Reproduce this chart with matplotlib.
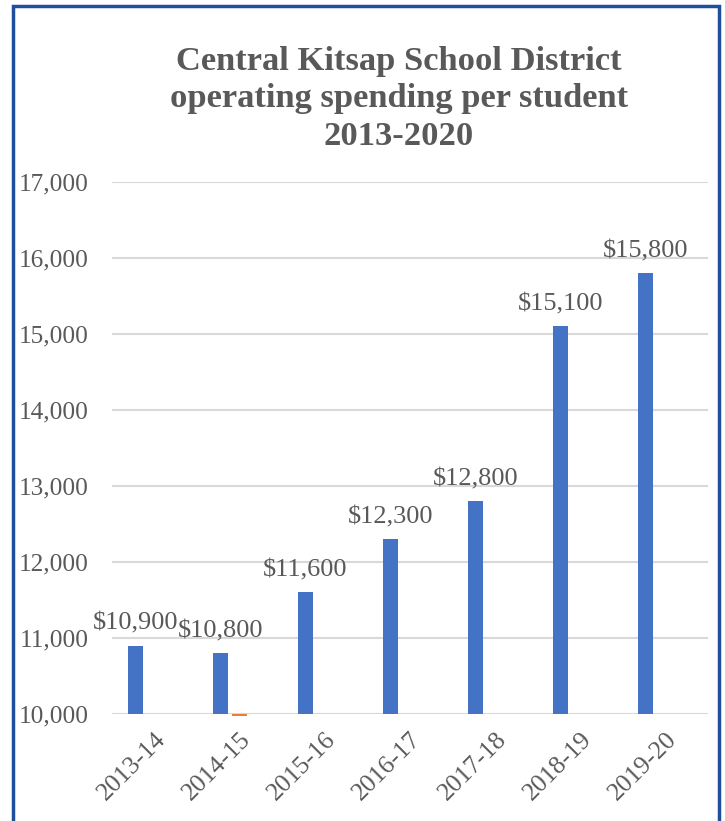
import matplotlib
matplotlib.use("Agg")
import matplotlib.pyplot as plt
from matplotlib.patches import Rectangle
import numpy as np

years = ["2013-14", "2014-15", "2015-16", "2016-17", "2017-18", "2018-19", "2019-20"]
spending = [10900, 10800, 11600, 12300, 12800, 15100, 15800]
labels = ["$10,900", "$10,800", "$11,600", "$12,300", "$12,800", "$15,100", "$15,800"]
other = [np.nan, 9975, np.nan, np.nan, np.nan, np.nan, np.nan]
yticks = [10000, 11000, 12000, 13000, 14000, 15000, 16000, 17000]

plt.rcParams['font.family'] = ['Liberation Serif', 'DejaVu Serif']
gray = '#595959'

fig = plt.figure(figsize=(7.25, 8.21), dpi=100)
ax = fig.add_axes([0.1545, 0.1303, 0.822, 0.648])

x = np.arange(len(years))
bw = 0.176
off = 0.228
ax.bar(x - off, spending, width=bw, bottom=0, color='#4472C4', zorder=3)
base = 10000
ax.bar(x, np.array(other) - base, width=bw, bottom=base, color='#ED7D31', zorder=3, clip_on=False)

for xi, v, lab in zip(x, spending, labels):
    ax.annotate(lab, (xi - off, v), xytext=(0, 8), textcoords='offset points',
                ha='center', va='bottom', fontsize=19, color=gray)

ax.set_ylim(10000, 17000)
ax.set_xlim(-0.5, len(years) - 0.5)
ax.set_yticks(yticks)
ax.set_yticklabels([f"{t:,}" for t in yticks], fontsize=18.2, color=gray)
ax.set_xticks(x)
ax.set_xticklabels(years, rotation=45, ha='right', va='top', rotation_mode='anchor',
                   fontsize=18.5, color=gray)
ax.tick_params(axis='both', length=0)
ax.tick_params(axis='y', pad=17)
ax.tick_params(axis='x', pad=10)
ax.grid(axis='y', color='#D9D9D9', linewidth=1.5, zorder=0)
for s in ax.spines.values():
    s.set_visible(False)

fig.text(399 / 725, 1 - 46 / 821,
         "Central Kitsap School District\noperating spending per student\n2013-2020",
         ha='center', va='top', fontsize=24.8, fontweight='bold', color=gray, linespacing=1.27)

fig.patches.append(Rectangle((13 / 725, -0.05), (719 - 13) / 725, 1 - 6 / 821 + 0.05,
                             transform=fig.transFigure, fill=False,
                             edgecolor='#1F4E9A', linewidth=2.5, zorder=10))

fig.savefig("out.png", dpi=100)
